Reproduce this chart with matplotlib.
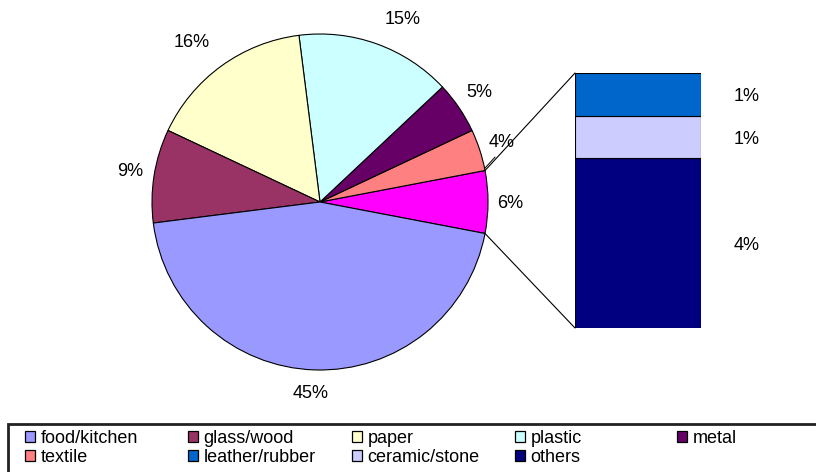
import numpy as np
import matplotlib
matplotlib.use("Agg")
import matplotlib.pyplot as plt
from matplotlib.patches import ConnectionPatch, Patch, Rectangle

plt.rcParams['font.family'] = ['Liberation Sans', 'DejaVu Sans']

# Main pie: "other" slice collects the three small categories shown in the bar
pie_labels = ["other", "textile", "metal", "plastic", "paper", "glass/wood", "food/kitchen"]
pie_values = [6, 4, 5, 15, 16, 9, 45]
pie_colors = ["#FF00FF", "#FF8080", "#660066", "#CCFFFF", "#FFFFCC", "#993366", "#9999FF"]

# Breakdown of the "other" slice (bottom to top)
bar_labels = ["others", "ceramic/stone", "leather/rubber"]
bar_values = [4, 1, 1]
bar_colors = ["#000080", "#CCCCFF", "#0066CC"]

legend_order = ["food/kitchen", "glass/wood", "paper", "plastic", "metal",
                "textile", "leather/rubber", "ceramic/stone", "others"]

FS = 13
W, H = 816, 472
fig = plt.figure(figsize=(W / 100, H / 100), dpi=100)
ax = fig.add_axes([0, 0, 1, 1])

cx, cy, r = 320, H - 202, 168
start = -pie_values[0] / 2 * 3.6
wedges, _ = ax.pie(pie_values, colors=pie_colors, startangle=start,
                   center=(cx, cy), radius=r, frame=True,
                   wedgeprops=dict(edgecolor="black", linewidth=0.8))
ax.set_xlim(0, W)
ax.set_ylim(0, H)
ax.set_aspect("equal")
ax.axis("off")

# Percentage labels around the pie (radial distance factor, angular nudge)
place = {"other": (1.13, -0.5), "textile": (1.14, 0.2), "metal": (1.15, 0.2),
         "plastic": (1.19, -4.5), "paper": (1.215, 2.8), "glass/wood": (1.145, 0),
         "food/kitchen": (1.14, -1.0)}
for w, lab, val in zip(wedges, pie_labels, pie_values):
    k, nudge = place[lab]
    a = np.deg2rad((w.theta1 + w.theta2) / 2 + nudge)
    x = cx + k * r * np.cos(a)
    y = cy + k * r * np.sin(a)
    ax.text(x, y, f"{val}%", ha="center", va="center", fontsize=FS)
    if lab == "textile":
        t0 = np.deg2rad(w.theta1 + 0.7)
        ax.plot([cx + r * np.cos(t0), x - 7], [cy + r * np.sin(t0), y - 15],
                color="black", lw=0.7)

# Stacked bar for the breakdown
bax = fig.add_axes([575 / W, (H - 328) / H, 126 / W, 255 / H])
bottom = 0
for lab, val, col in zip(bar_labels, bar_values, bar_colors):
    bax.bar(0, val, bottom=bottom, width=1, color=col, edgecolor="black", linewidth=0.8)
    bax.text(0.86, bottom + val / 2 - 0.06, f"{val}%", ha="center", va="center",
             fontsize=FS, clip_on=False)
    bottom += val
bax.set_xlim(-0.5, 0.5)
bax.set_ylim(0, sum(bar_values))
bax.axis("off")

# Connector lines between the "other" slice and the bar
ow = wedges[0]
for th, yb in [(ow.theta2, sum(bar_values)), (ow.theta1, 0)]:
    p = (cx + r * np.cos(np.deg2rad(th)), cy + r * np.sin(np.deg2rad(th)))
    con = ConnectionPatch(xyA=p, coordsA=ax.transData, xyB=(-0.5, yb),
                          coordsB=bax.transData, color="black", lw=0.8)
    fig.add_artist(con)

# Legend: five equal-width columns, filled row by row, inside one frame
fig.add_artist(Rectangle((8 / W, -0.05), 1.1, (H - 424) / H + 0.05,
                         transform=fig.transFigure, facecolor="white",
                         edgecolor="#222222", linewidth=2, zorder=0))
color_map = dict(zip(pie_labels, pie_colors))
color_map.update(dict(zip(bar_labels, bar_colors)))
col_x = [25, 188, 352, 515, 677]
for i, x0 in enumerate(col_x):
    names = legend_order[i::5]
    handles = [Patch(facecolor=color_map[n], edgecolor="black", linewidth=0.9, label=n)
               for n in names]
    leg = fig.legend(handles=handles, loc="upper left",
                     bbox_to_anchor=(x0 / W, 1 - 430 / H),
                     fontsize=FS, handlelength=0.55, handleheight=0.55,
                     handletextpad=0.3, labelspacing=0.12, borderpad=0,
                     borderaxespad=0, frameon=False)

fig.savefig("out.png", dpi=100)
